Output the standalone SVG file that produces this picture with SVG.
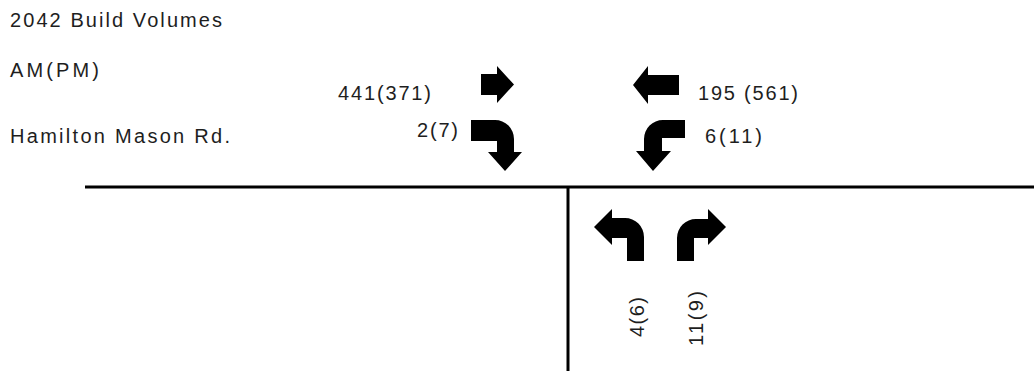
<svg xmlns="http://www.w3.org/2000/svg" width="1034" height="371" viewBox="0 0 1034 371">
<style>
.t{font-family:"Liberation Sans",Arial,sans-serif;font-size:20px;fill:#1e1e1e}
.a{fill:#000}
.r{stroke:#000;stroke-width:3;fill:none}
</style>
<rect width="1034" height="371" fill="#fff"/>
<g id="labels">
<text class="t" x="10" y="27" textLength="212" lengthAdjust="spacing">2042 Build Volumes</text>
<text class="t" x="10" y="77" textLength="89" lengthAdjust="spacing">AM(PM)</text>
<text class="t" x="10" y="143" textLength="220" lengthAdjust="spacing">Hamilton Mason Rd.</text>
</g>
<g id="roads">
<line class="r" x1="85" y1="187" x2="1034" y2="187"/>
<line class="r" x1="568" y1="187" x2="568" y2="371"/>
</g>
<g id="eb-through">
<path class="a" d="M481,74 H497 V66 L514,84.5 L497,103 V95 H481 Z"/>
<text class="t" x="338" y="100" textLength="93" lengthAdjust="spacing">441(371)</text>
</g>
<g id="eb-right">
<path class="a" d="M471,120 H495 A19,19 0 0 1 514,139 V152 H522 L505,171 L488,152 H497 V141 H471 Z"/>
<text class="t" x="417" y="137" textLength="41" lengthAdjust="spacing">2(7)</text>
</g>
<g id="wb-through">
<path class="a" d="M679,75 H648 V66 L633,85 L648,104 V95 H679 Z"/>
<text class="t" x="698" y="100" textLength="100" lengthAdjust="spacing">195 (561)</text>
</g>
<g id="wb-left">
<path class="a" d="M685,120 H663 A19,19 0 0 0 644,139 V151 H636 L653,171 L671,151 H662 V138 H685 Z"/>
<text class="t" x="705" y="143" textLength="57" lengthAdjust="spacing">6(11)</text>
</g>
<g id="nb-left">
<path class="a" d="M644,261 V237 A19,19 0 0 0 625,218 H612 V209 L594,227 L612,245 V238 H627 V261 Z"/>
<text class="t" transform="translate(644,337) rotate(-90)" x="0" y="0" textLength="40" lengthAdjust="spacing">4(6)</text>
</g>
<g id="nb-right">
<path class="a" d="M677,261 V238 A19,19 0 0 1 696,219 H708 V209 L726,227 L708,245 V238 H694 V261 Z"/>
<text class="t" transform="translate(703,346) rotate(-90)" x="0" y="0" textLength="55" lengthAdjust="spacing">11(9)</text>
</g>
</svg>
